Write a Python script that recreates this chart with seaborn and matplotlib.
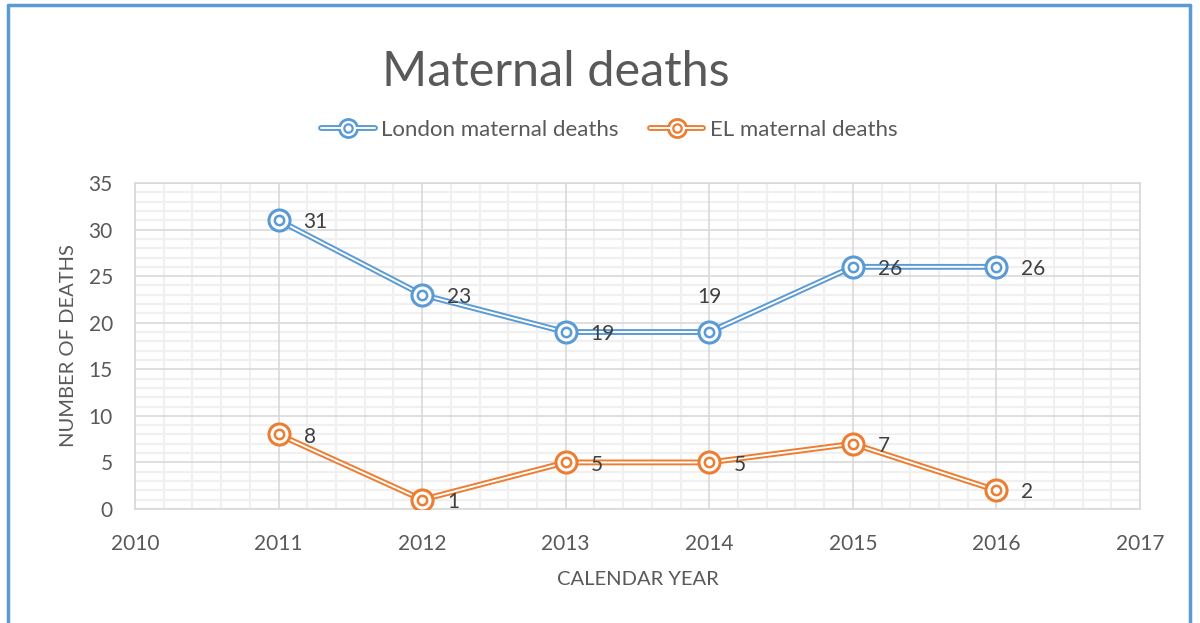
import matplotlib
matplotlib.use("Agg")
import matplotlib.pyplot as plt
import seaborn as sns
import pandas as pd
from matplotlib.lines import Line2D
from matplotlib.legend_handler import HandlerTuple
from matplotlib.ticker import MultipleLocator, AutoMinorLocator

# datos del grafico
anios = [2011, 2012, 2013, 2014, 2015, 2016]
londres = [31, 23, 19, 19, 26, 26]
el = [8, 1, 5, 5, 7, 2]
series = ['London maternal deaths', 'EL maternal deaths']

azul = '#5B9BD5'
naranja = '#ED7D31'
gris_texto = '#595959'

df = pd.DataFrame({
    'anio': anios * 2,
    'muertes': londres + el,
    'serie': [series[0]] * len(anios) + [series[1]] * len(anios),
})

sns.set_theme(style='white')
plt.rcParams['font.family'] = ['Lato', 'DejaVu Sans']

fig = plt.figure(figsize=(12, 6.23), dpi=100)
ax = fig.add_axes([135 / 1200, 1 - 509 / 623, 1005 / 1200, 326 / 623])

paleta = {series[0]: azul, series[1]: naranja}

# linea doble: linea gruesa de color y linea blanca encima
sns.lineplot(data=df, x='anio', y='muertes', hue='serie', palette=paleta,
             linewidth=4.2, legend=False, ax=ax, zorder=3)
sns.lineplot(data=df, x='anio', y='muertes', hue='serie',
             palette={series[0]: 'white', series[1]: 'white'},
             linewidth=1.4, legend=False, ax=ax, zorder=4)

# marcadores de doble circulo
for s, c in paleta.items():
    sub = df[df['serie'] == s]
    ax.scatter(sub['anio'], sub['muertes'], s=230, facecolor='white',
               edgecolor=c, linewidth=2.2, zorder=5)
    ax.scatter(sub['anio'], sub['muertes'], s=45, facecolor='white',
               edgecolor=c, linewidth=1.8, zorder=6)

# etiquetas de datos
for s in series:
    sub = df[df['serie'] == s]
    for x, y in zip(sub['anio'], sub['muertes']):
        if s == series[0] and x == 2014:
            ax.annotate(str(y), xy=(x, y), xytext=(0, 25), textcoords='offset points',
                        ha='center', va='center', fontsize=15, color='#404040', zorder=10)
        else:
            ax.annotate(str(y), xy=(x, y), xytext=(18, -1.5), textcoords='offset points',
                        ha='left', va='center', fontsize=15, color='#404040', zorder=10)

ax.set_xlim(2010, 2017)
ax.set_ylim(0, 35)
ax.xaxis.set_major_locator(MultipleLocator(1))
ax.xaxis.set_minor_locator(AutoMinorLocator(5))
ax.yaxis.set_major_locator(MultipleLocator(5))
ax.yaxis.set_minor_locator(AutoMinorLocator(5))
# rejilla menor con grid, la mayor encima con lineas propias
ax.grid(which='minor', color='#F0F0F0', linewidth=1.6)
ax.set_axisbelow(True)
for xt in ax.get_xticks():
    ax.axvline(xt, color='#D9D9D9', linewidth=1.2, zorder=1)
for yt in ax.get_yticks():
    ax.axhline(yt, color='#D9D9D9', linewidth=1.2, zorder=1)
for lado in ax.spines.values():
    lado.set_color('#D9D9D9')
    lado.set_linewidth(1.2)
ax.tick_params(axis='both', which='both', length=0, labelsize=15,
               labelcolor=gris_texto)
ax.tick_params(axis='x', pad=18)
ax.tick_params(axis='y', pad=16)
ax.set_xlabel('CALENDAR YEAR', fontsize=14.5, color=gris_texto, labelpad=12)
ax.set_ylabel('NUMBER OF DEATHS', fontsize=14.5, color=gris_texto, labelpad=8)

# titulo y leyenda
fig.text(0.463, 1 - 72 / 623, 'Maternal deaths', ha='center', va='center',
         fontsize=35, color=gris_texto)

manejadores = []
for c in [azul, naranja]:
    gruesa = Line2D([], [], color=c, linewidth=4.2, marker='o', markersize=13,
                    markerfacecolor='white', markeredgecolor=c, markeredgewidth=2)
    fina = Line2D([], [], color='white', linewidth=1.4)
    interior = Line2D([], [], linestyle='none', marker='o', markersize=6,
                      markerfacecolor='white', markeredgecolor=c, markeredgewidth=1.6)
    manejadores.append((gruesa, fina, interior))
leg = fig.legend(manejadores, series, loc='center', bbox_to_anchor=(0.508, 1 - 130 / 623),
                 ncol=2, frameon=False, fontsize=16, handlelength=2.4, columnspacing=1.4,
                 handletextpad=0.3, handler_map={tuple: HandlerTuple(ndivide=1, pad=0)})
for t in leg.get_texts():
    t.set_color(gris_texto)

# marco azul del grafico
marco = dict(color=azul, linewidth=2.5, transform=fig.transFigure)
fig.add_artist(Line2D([8 / 1200, 8 / 1200], [0, 1 - 5 / 623], **marco))
fig.add_artist(Line2D([8 / 1200, 1190 / 1200], [1 - 5 / 623, 1 - 5 / 623], **marco))
fig.add_artist(Line2D([1190 / 1200, 1190 / 1200], [0, 1 - 5 / 623], **marco))

fig.savefig('out.png', dpi=100)
